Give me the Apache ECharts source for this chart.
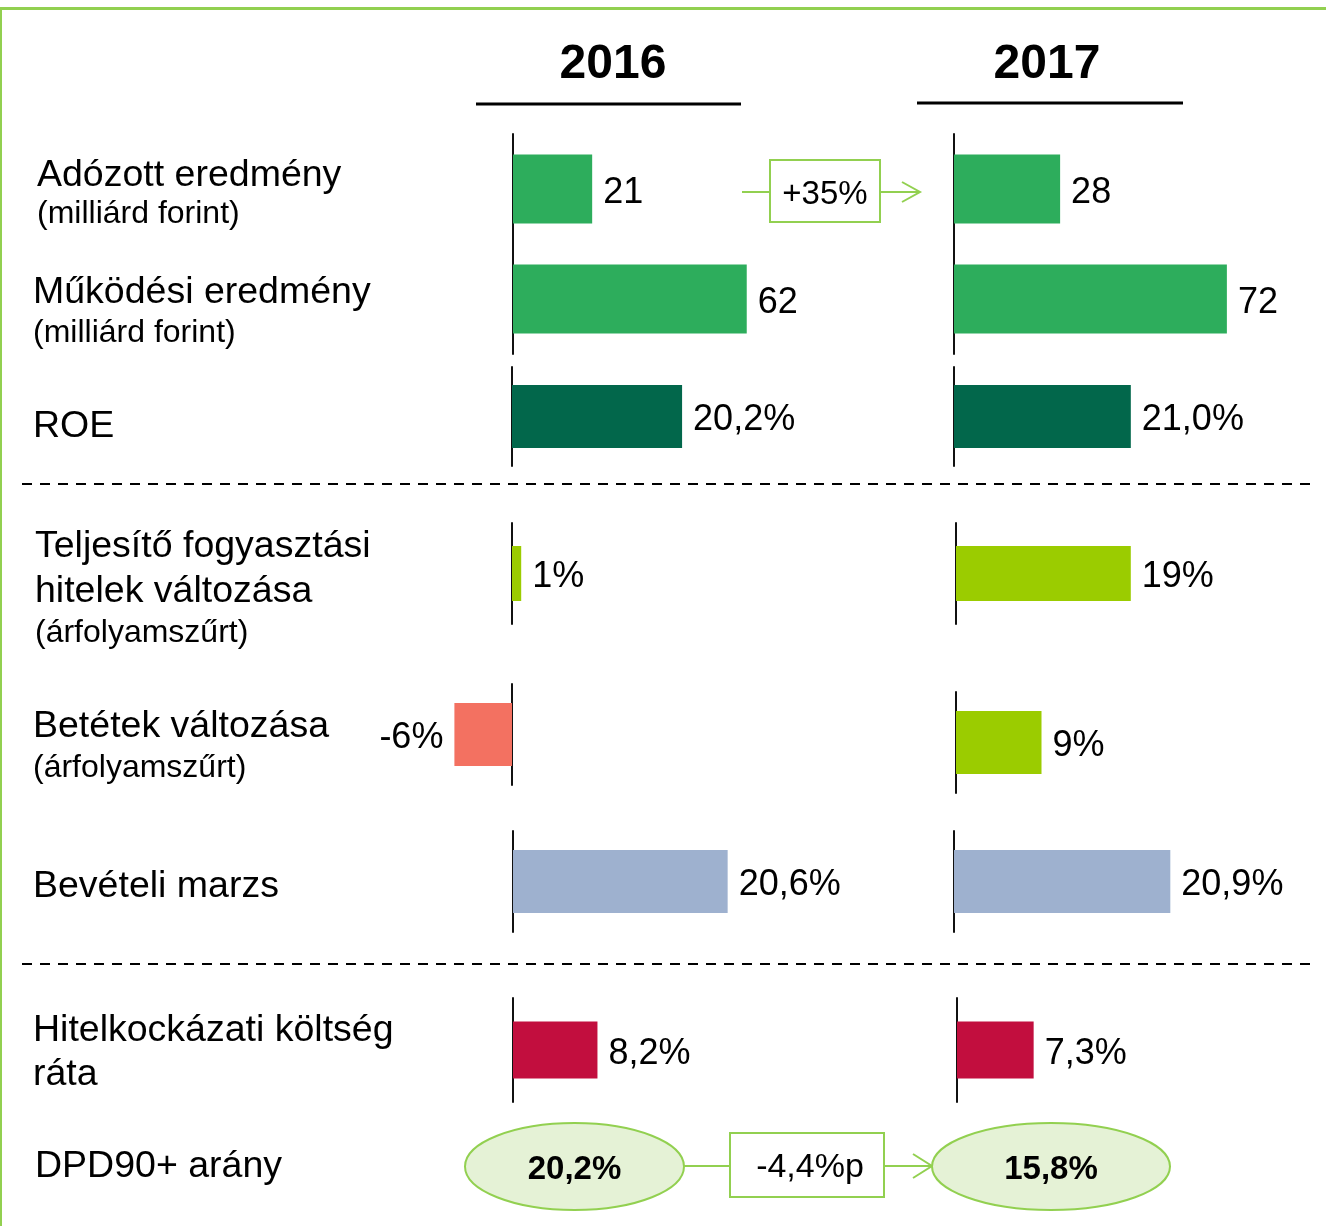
<!DOCTYPE html>
<html>
<head>
<meta charset="utf-8">
<script src="https://cdn.jsdelivr.net/npm/echarts@6/dist/echarts.min.js"></script>
<style>
  html, body { margin: 0; padding: 0; background: #fff; }
  #chart { width: 1326px; height: 1226px; }
</style>
</head>
<body>
<div id="chart"></div>
<script>
// ---- data -------------------------------------------------------------
const years = ['2016', '2017'];
const netProfit = [21, 28];            // milliárd forint
const operatingProfit = [62, 72];      // milliárd forint
const roe = [20.2, 21.0];              // %
const consumerLoanChange = [1, 19];    // %
const depositChange = [-6, 9];         // %
const revenueMargin = [20.6, 20.9];    // %
const creditRiskCost = [8.2, 7.3];     // %
const dpd90Share = [20.2, 15.8];       // %
const netProfitGrowth = '+35%';
const dpd90Change = '-4,4%p';

const rowTitles = [
  ['Adózott eredmény', '(milliárd forint)'],
  ['Működési eredmény', '(milliárd forint)'],
  ['ROE'],
  ['Teljesítő fogyasztási', 'hitelek változása', '(árfolyamszűrt)'],
  ['Betétek változása', '(árfolyamszűrt)'],
  ['Bevételi marzs'],
  ['Hitelkockázati költség', 'ráta'],
  ['DPD90+ arány']
];

// ---- styling ----------------------------------------------------------
const FONT = '"Liberation Sans", Arial, sans-serif';
const GREEN_FRAME = '#92D050';
const C_PROFIT = '#2DAD5C';
const C_ROE = '#02674B';
const C_LIME = '#9BCC00';
const C_NEG = '#F37161';
const C_MARGIN = '#9EB1CF';
const C_RISK = '#C20E3E';

function hu(v, dec, suffix) {
  return v.toFixed(dec).replace('.', ',') + suffix;
}

// one panel = one small bar chart per year column
const panels = [
  { series: [netProfit, operatingProfit], cats: ['Adózott eredmény', 'Működési eredmény'],
    color: () => C_PROFIT, top: [134, 134], height: 220, zero: [513, 954],
    min: 0, max: 80, ppu: [3.77, 3.79], barWidth: 69, dec: 0, suffix: '' },
  { series: [roe], cats: ['ROE'],
    color: () => C_ROE, top: [367, 367], height: 99, zero: [512, 954],
    min: 0, max: 30, ppu: [8.42, 8.42], barWidth: 63, dec: 1, suffix: '%' },
  { series: [consumerLoanChange], cats: ['Teljesítő fogyasztási hitelek'],
    color: () => C_LIME, top: [523, 523], height: 101, zero: [512, 956],
    min: 0, max: 30, ppu: [9.2, 9.2], barWidth: 55, dec: 0, suffix: '%' },
  { series: [depositChange], cats: ['Betétek'],
    color: v => (v < 0 ? C_NEG : C_LIME), top: [684, 692], height: 101, zero: [512, 956],
    min: -10, max: 20, ppu: [9.6, 9.5], barWidth: 63, dec: 0, suffix: '%' },
  { series: [revenueMargin], cats: ['Bevételi marzs'],
    color: () => C_MARGIN, top: [831, 831], height: 101, zero: [513, 954],
    min: 0, max: 30, ppu: [10.42, 10.35], barWidth: 63, dec: 1, suffix: '%' },
  { series: [creditRiskCost], cats: ['Hitelkockázati költség ráta'],
    color: () => C_RISK, top: [998, 998], height: 104, zero: [513, 957],
    min: 0, max: 30, ppu: [10.3, 10.5], barWidth: 57, dec: 1, suffix: '%' }
];

const grid = [], xAxis = [], yAxis = [], series = [];
panels.forEach(p => {
  years.forEach((yr, yi) => {
    const idx = grid.length;
    const ppu = p.ppu[yi];
    const width = (p.max - p.min) * ppu;
    const left = p.zero[yi] + p.min * ppu;
    grid.push({ left: left, top: p.top[yi], width: width, height: p.height });
    xAxis.push({ gridIndex: idx, type: 'value', min: p.min, max: p.max, show: false });
    yAxis.push({
      gridIndex: idx, type: 'category', data: p.cats, inverse: true,
      axisLine: { show: true, onZero: true, lineStyle: { color: '#111', width: 2 } },
      axisTick: { show: false }, axisLabel: { show: false }, splitLine: { show: false }
    });
    series.push({
      type: 'bar', name: yr, xAxisIndex: idx, yAxisIndex: idx,
      barWidth: p.barWidth, silent: true,
      data: p.series.map(arr => {
        const v = arr[yi];
        return {
          value: v,
          itemStyle: { color: p.color(v) },
          label: { position: v < 0 ? 'left' : 'right' }
        };
      }),
      label: {
        show: true, distance: 11, offset: [0, 4], color: '#000',
        fontFamily: FONT, fontSize: 36,
        formatter: prm => hu(prm.value, p.dec, p.suffix)
      }
    });
  });
});

// ---- row titles on the left -------------------------------------------
const titleLines = [
  { t: rowTitles[0][0], x: 37, y: 176, s: 37.5 },
  { t: rowTitles[0][1], x: 37, y: 214, s: 32 },
  { t: rowTitles[1][0], x: 33, y: 293, s: 37.5 },
  { t: rowTitles[1][1], x: 33, y: 333, s: 32 },
  { t: rowTitles[2][0], x: 33, y: 427, s: 37.5 },
  { t: rowTitles[3][0], x: 35, y: 547, s: 37.5 },
  { t: rowTitles[3][1], x: 35, y: 592, s: 37.5 },
  { t: rowTitles[3][2], x: 35, y: 633, s: 32 },
  { t: rowTitles[4][0], x: 33, y: 727, s: 37.5 },
  { t: rowTitles[4][1], x: 33, y: 768, s: 32 },
  { t: rowTitles[5][0], x: 33, y: 887, s: 37.5 },
  { t: rowTitles[6][0], x: 33, y: 1031, s: 37.5 },
  { t: rowTitles[6][1], x: 33, y: 1075, s: 37.5 },
  { t: rowTitles[7][0], x: 35, y: 1167, s: 37.5 }
];

function text(str, x, y, size, opts) {
  opts = opts || {};
  return {
    type: 'text', x: x, y: y, silent: true,
    style: {
      text: str, fill: '#000',
      font: (opts.bold ? 'bold ' : '') + size + 'px ' + FONT,
      align: opts.align || 'left', verticalAlign: 'middle',
      textAlign: opts.align || 'left', textVerticalAlign: 'middle'
    }
  };
}
function line(x1, y1, x2, y2, stroke, w, dash) {
  return {
    type: 'line', silent: true,
    shape: { x1: x1, y1: y1, x2: x2, y2: y2 },
    style: { stroke: stroke, lineWidth: w, lineDash: dash || null }
  };
}
function chevron(tipX, tipY, back, half) {
  return {
    type: 'polyline', silent: true,
    shape: { points: [[tipX - back, tipY - half], [tipX, tipY], [tipX - back, tipY + half]] },
    style: { stroke: GREEN_FRAME, lineWidth: 2, fill: null }
  };
}

const graphics = [];
// frame
graphics.push(line(0, 8.5, 1326, 8.5, GREEN_FRAME, 3));
graphics.push(line(1, 8, 1, 1226, GREEN_FRAME, 2));

// year headers
graphics.push(text(years[0], 613, 65, 48, { bold: true, align: 'center' }));
graphics.push(text(years[1], 1047, 65, 48, { bold: true, align: 'center' }));
graphics.push(line(476, 104, 741, 104, '#000', 3));
graphics.push(line(917, 103, 1183, 103, '#000', 3));

titleLines.forEach(l => graphics.push(text(l.t, l.x, l.y, l.s)));

// section separators
graphics.push(line(22, 484, 1313, 484, '#000', 2, [10, 8]));
graphics.push(line(22, 964, 1313, 964, '#000', 2, [10, 8]));

// growth marker between the net profit bars
graphics.push(line(742, 192, 770, 192, GREEN_FRAME, 2));
graphics.push({
  type: 'rect', silent: true,
  shape: { x: 770, y: 160, width: 110, height: 62 },
  style: { fill: '#fff', stroke: GREEN_FRAME, lineWidth: 2 }
});
graphics.push(text(netProfitGrowth, 825, 195, 33, { align: 'center' }));
graphics.push(line(880, 192, 919, 192, GREEN_FRAME, 2));
graphics.push(chevron(920, 192, 18, 10));

// DPD90+ ratio bubbles
const bubbles = [
  { cx: 574.5, cy: 1166.5, rx: 109.5, ry: 43.5 },
  { cx: 1051, cy: 1166.5, rx: 119, ry: 43.5 }
];
graphics.push(line(684, 1166, 730, 1166, GREEN_FRAME, 2));
graphics.push(line(884, 1166, 931, 1166, GREEN_FRAME, 2));
graphics.push(chevron(932, 1166, 19, 12));
bubbles.forEach((b, i) => {
  graphics.push({
    type: 'ellipse', silent: true,
    shape: { cx: b.cx, cy: b.cy, rx: b.rx, ry: b.ry },
    style: { fill: '#E5F2D6', stroke: GREEN_FRAME, lineWidth: 2 }
  });
  graphics.push(text(hu(dpd90Share[i], 1, '%'), b.cx, 1170, 33, { bold: true, align: 'center' }));
});
graphics.push({
  type: 'rect', silent: true,
  shape: { x: 730, y: 1133, width: 154, height: 64 },
  style: { fill: '#fff', stroke: GREEN_FRAME, lineWidth: 2 }
});
graphics.push(text(dpd90Change, 810, 1168, 34, { align: 'center' }));

const chart = echarts.init(document.getElementById('chart'), null, { renderer: 'canvas' });
chart.setOption({
  animation: false,
  backgroundColor: '#fff',
  textStyle: { fontFamily: FONT },
  grid: grid,
  xAxis: xAxis,
  yAxis: yAxis,
  series: series,
  graphic: { elements: graphics }
});
</script>
</body>
</html>
